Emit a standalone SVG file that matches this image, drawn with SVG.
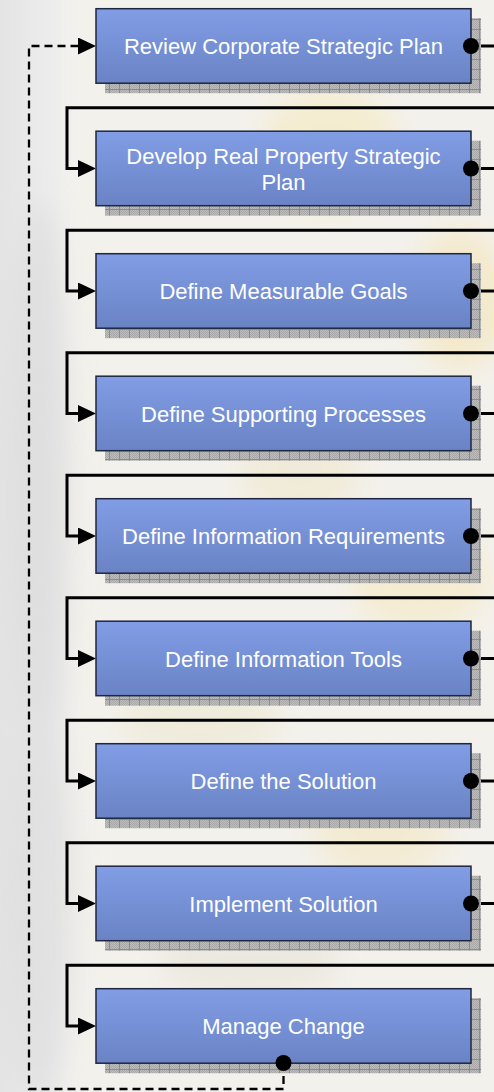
<svg xmlns="http://www.w3.org/2000/svg" width="494" height="1092" viewBox="0 0 494 1092">
<defs>
<style>
.box{fill:url(#boxGrad);stroke:#1E2640;stroke-width:1.5}
.shadow{fill:url(#hatch)}
.lbl{font-family:"Liberation Sans",Arial,sans-serif;font-size:22px;fill:#FFFFFF;text-anchor:middle}
.conn{fill:none;stroke:#000;stroke-width:3}
.dash{fill:none;stroke:#000;stroke-width:2.3;stroke-dasharray:8 5}
.dot{fill:#000}
</style>
<linearGradient id="boxGrad" x1="0" y1="0" x2="0" y2="1">
<stop offset="0" stop-color="#819DE5"/>
<stop offset="1" stop-color="#6A83C5"/>
</linearGradient>
<linearGradient id="bgLeft" x1="0" y1="0" x2="1" y2="0">
<stop offset="0" stop-color="#E4E4E4"/>
<stop offset="0.6" stop-color="#EDEDED"/>
<stop offset="1" stop-color="#F4F3F0" stop-opacity="0"/>
</linearGradient>
<pattern id="hatch" width="10" height="10" patternUnits="userSpaceOnUse">
<rect width="10" height="10" fill="#BDBDBD"/>
<path d="M0 0h1v1h-1zM2 0h1v1h-1zM4 0h1v1h-1zM6 0h1v1h-1zM8 0h1v1h-1zM1 1h1v1h-1zM3 1h1v1h-1zM5 1h1v1h-1zM7 1h1v1h-1zM9 1h1v1h-1z" fill="#A8A8A8"/>
<path d="M0 2h1v1h-1zM2 2h1v1h-1zM4 2h1v1h-1zM6 2h1v1h-1zM8 2h1v1h-1zM1 3h1v1h-1zM3 3h1v1h-1zM5 3h1v1h-1zM7 3h1v1h-1zM9 3h1v1h-1zM0 4h1v1h-1zM2 4h1v1h-1zM4 4h1v1h-1zM6 4h1v1h-1zM8 4h1v1h-1zM1 5h1v1h-1zM3 5h1v1h-1zM5 5h1v1h-1zM7 5h1v1h-1zM9 5h1v1h-1zM0 6h1v1h-1zM2 6h1v1h-1zM4 6h1v1h-1zM6 6h1v1h-1zM8 6h1v1h-1zM1 7h1v1h-1zM3 7h1v1h-1zM5 7h1v1h-1zM7 7h1v1h-1zM9 7h1v1h-1zM0 8h1v1h-1zM2 8h1v1h-1zM4 8h1v1h-1zM6 8h1v1h-1zM8 8h1v1h-1z" fill="#A8A8A8"/>
<path d="M0 9.5H10M9.5 0V10" stroke="#8C8C8C" stroke-width="1"/>
</pattern>
<marker id="arrow" viewBox="0 0 18 17" refX="0" refY="8.5" markerWidth="18" markerHeight="17" markerUnits="userSpaceOnUse" orient="auto">
<path d="M0 0L18 8.5L0 17Z" fill="#000"/>
</marker>
<filter id="blur" x="-50%" y="-50%" width="200%" height="200%">
<feGaussianBlur stdDeviation="14"/>
</filter>
</defs>

<g id="background">
<rect width="494" height="1092" fill="#F3F1EC"/>
<rect width="90" height="1092" fill="url(#bgLeft)"/>
<g filter="url(#blur)" opacity="0.55">
<ellipse cx="330" cy="150" rx="70" ry="60" fill="#F6E9B8"/>
<ellipse cx="460" cy="300" rx="50" ry="70" fill="#F4E3B0"/>
<ellipse cx="300" cy="470" rx="60" ry="50" fill="#EFE6C8"/>
<ellipse cx="420" cy="580" rx="70" ry="50" fill="#F5E8BC"/>
<ellipse cx="200" cy="720" rx="80" ry="40" fill="#EDE7CF"/>
<ellipse cx="380" cy="820" rx="70" ry="60" fill="#F3E6C0"/>
<ellipse cx="250" cy="960" rx="90" ry="40" fill="#E6E2D6"/>
<ellipse cx="40" cy="500" rx="30" ry="300" fill="#D6D6D6"/>
<ellipse cx="40" cy="900" rx="35" ry="200" fill="#D9D9D9"/>
</g>
</g>

<g id="connectors">
<path class="conn" d="M471 46H498V107.7H67V168.5H78" marker-end="url(#arrow)"/>
<path class="conn" d="M471 168.5H498V230.2H67V291H78" marker-end="url(#arrow)"/>
<path class="conn" d="M471 291H498V352.7H67V413.5H78" marker-end="url(#arrow)"/>
<path class="conn" d="M471 413.5H498V475.2H67V536H78" marker-end="url(#arrow)"/>
<path class="conn" d="M471 536H498V597.7H67V658.5H78" marker-end="url(#arrow)"/>
<path class="conn" d="M471 658.5H498V720.2H67V781H78" marker-end="url(#arrow)"/>
<path class="conn" d="M471 781H498V842.7H67V903.5H78" marker-end="url(#arrow)"/>
<path class="conn" d="M471 903.5H498V965.2H67V1026H78" marker-end="url(#arrow)"/>
<path class="dash" d="M283.5 1063V1089H29V46H78" marker-end="url(#arrow)"/>
</g>

<g id="node1">
<rect class="shadow" x="105" y="18.2" width="376" height="75"/>
<rect class="box" x="96" y="8.7" width="375" height="74.5"/>
<text class="lbl" x="283.5" y="54">Review Corporate Strategic Plan</text>
</g>
<g id="node2">
<rect class="shadow" x="105" y="140.7" width="376" height="75"/>
<rect class="box" x="96" y="131.2" width="375" height="74.5"/>
<text class="lbl" x="283.5" y="163.5">Develop Real Property Strategic</text>
<text class="lbl" x="283.5" y="190">Plan</text>
</g>
<g id="node3">
<rect class="shadow" x="105" y="263.2" width="376" height="75"/>
<rect class="box" x="96" y="253.7" width="375" height="74.5"/>
<text class="lbl" x="283.5" y="299">Define Measurable Goals</text>
</g>
<g id="node4">
<rect class="shadow" x="105" y="385.7" width="376" height="75"/>
<rect class="box" x="96" y="376.2" width="375" height="74.5"/>
<text class="lbl" x="283.5" y="421.5">Define Supporting Processes</text>
</g>
<g id="node5">
<rect class="shadow" x="105" y="508.2" width="376" height="75"/>
<rect class="box" x="96" y="498.7" width="375" height="74.5"/>
<text class="lbl" x="283.5" y="544">Define Information Requirements</text>
</g>
<g id="node6">
<rect class="shadow" x="105" y="630.7" width="376" height="75"/>
<rect class="box" x="96" y="621.2" width="375" height="74.5"/>
<text class="lbl" x="283.5" y="666.5">Define Information Tools</text>
</g>
<g id="node7">
<rect class="shadow" x="105" y="753.2" width="376" height="75"/>
<rect class="box" x="96" y="743.7" width="375" height="74.5"/>
<text class="lbl" x="283.5" y="789">Define the Solution</text>
</g>
<g id="node8">
<rect class="shadow" x="105" y="875.7" width="376" height="75"/>
<rect class="box" x="96" y="866.2" width="375" height="74.5"/>
<text class="lbl" x="283.5" y="911.5">Implement Solution</text>
</g>
<g id="node9">
<rect class="shadow" x="105" y="998.2" width="376" height="75"/>
<rect class="box" x="96" y="988.7" width="375" height="74.5"/>
<text class="lbl" x="283.5" y="1034">Manage Change</text>
</g>

<g id="dots">
<circle class="dot" cx="471" cy="46" r="8"/>
<circle class="dot" cx="471" cy="168.5" r="8"/>
<circle class="dot" cx="471" cy="291" r="8"/>
<circle class="dot" cx="471" cy="413.5" r="8"/>
<circle class="dot" cx="471" cy="536" r="8"/>
<circle class="dot" cx="471" cy="658.5" r="8"/>
<circle class="dot" cx="471" cy="781" r="8"/>
<circle class="dot" cx="471" cy="903.5" r="8"/>
<circle class="dot" cx="283.5" cy="1063" r="8"/>
</g>
</svg>
